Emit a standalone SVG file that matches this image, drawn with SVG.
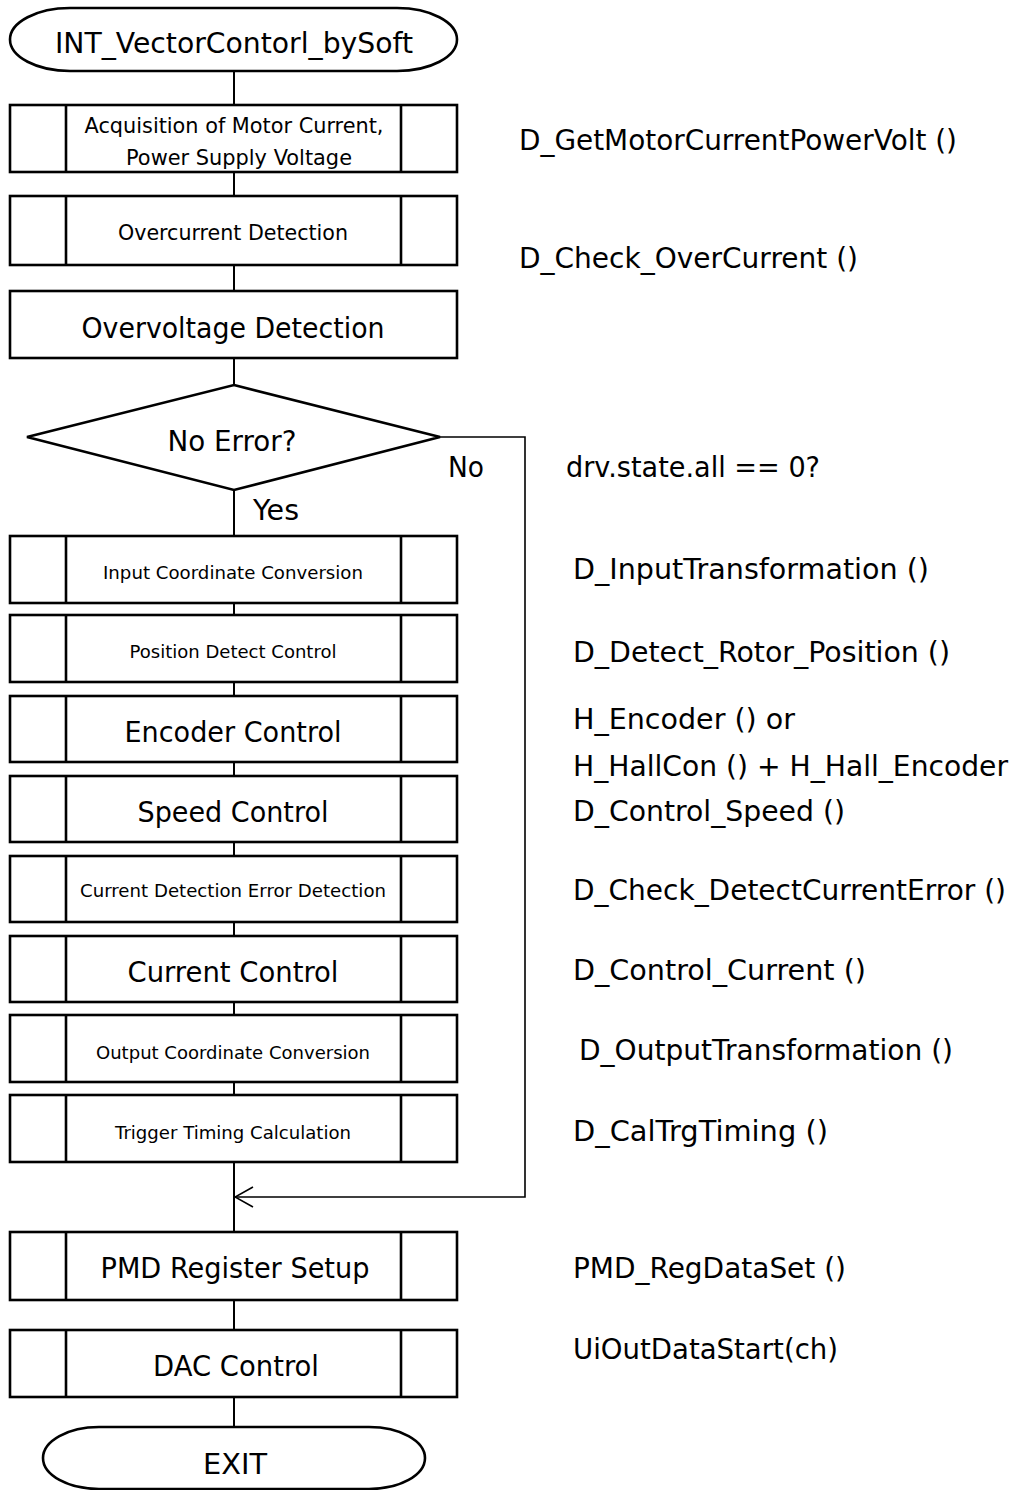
<svg xmlns="http://www.w3.org/2000/svg" width="1013" height="1490" viewBox="0 0 1013 1490">
<style>
.box{fill:#fff;stroke:#000;stroke-width:2.6}
.div{stroke:#000;stroke-width:2.6}
.ln{stroke:#000;stroke-width:2;fill:none}
.loop{stroke:#000;stroke-width:1.6;fill:none}
text{font-family:"DejaVu Sans","Liberation Sans",sans-serif;fill:#000}
.c{text-anchor:middle}
.b{font-size:28px}
.m{font-size:20.5px}
.s{font-size:18.5px}
.r{font-size:28px}
</style>
<defs>
<marker id="open" viewBox="0 0 20 24" refX="19" refY="12" markerWidth="20" markerHeight="24" markerUnits="userSpaceOnUse" orient="auto">
<path d="M1,2 L19,12 L1,22" fill="none" stroke="#000" stroke-width="1.6"/>
</marker>
</defs>
<g id="connectors">
<line class="ln" x1="234" y1="71" x2="234" y2="105"/>
<line class="ln" x1="234" y1="172" x2="234" y2="196"/>
<line class="ln" x1="234" y1="265" x2="234" y2="291"/>
<line class="ln" x1="234" y1="358" x2="234" y2="385"/>
<line class="ln" x1="234" y1="490" x2="234" y2="536"/>
<line class="ln" x1="234" y1="603" x2="234" y2="615"/>
<line class="ln" x1="234" y1="682" x2="234" y2="696"/>
<line class="ln" x1="234" y1="762" x2="234" y2="776"/>
<line class="ln" x1="234" y1="842" x2="234" y2="856"/>
<line class="ln" x1="234" y1="922" x2="234" y2="936"/>
<line class="ln" x1="234" y1="1002" x2="234" y2="1015"/>
<line class="ln" x1="234" y1="1082" x2="234" y2="1095"/>
<line class="ln" x1="234" y1="1162" x2="234" y2="1232"/>
<line class="ln" x1="234" y1="1300" x2="234" y2="1330"/>
<line class="ln" x1="234" y1="1397" x2="234" y2="1427"/>
<path class="loop" d="M440,437 L525,437 L525,1197 L235,1197" marker-end="url(#open)"/>
<text class="b" x="448" y="477" textLength="36" lengthAdjust="spacingAndGlyphs">No</text>
<text class="b" x="253" y="520" textLength="46" lengthAdjust="spacingAndGlyphs">Yes</text>
</g>
<g id="start">
<rect class="box" x="10" y="8" width="447" height="63" rx="60" ry="31.5"/>
<text class="b c" x="234" y="53" textLength="358" lengthAdjust="spacingAndGlyphs">INT_VectorContorl_bySoft</text>
</g>
<g id="acq">
<rect class="box" x="10" y="105" width="447" height="67"/>
<line class="div" x1="66" y1="105" x2="66" y2="172"/>
<line class="div" x1="401" y1="105" x2="401" y2="172"/>
<text class="m c" x="234" y="133" textLength="299" lengthAdjust="spacingAndGlyphs">Acquisition of Motor Current,</text>
<text class="m c" x="239" y="165" textLength="226" lengthAdjust="spacingAndGlyphs">Power Supply Voltage</text>
</g>
<g id="overcurrent">
<rect class="box" x="10" y="196" width="447" height="69"/>
<line class="div" x1="66" y1="196" x2="66" y2="265"/>
<line class="div" x1="401" y1="196" x2="401" y2="265"/>
<text class="m c" x="233" y="240" textLength="230" lengthAdjust="spacingAndGlyphs">Overcurrent Detection</text>
</g>
<g id="overvoltage">
<rect class="box" x="10" y="291" width="447" height="67"/>
<text class="b c" x="233" y="338" textLength="303" lengthAdjust="spacingAndGlyphs">Overvoltage Detection</text>
</g>
<g id="decision">
<polygon class="box" points="234,385 440,437 234,490 27,437"/>
<text class="b c" x="232" y="451" textLength="129" lengthAdjust="spacingAndGlyphs">No Error?</text>
</g>
<g id="input">
<rect class="box" x="10" y="536" width="447" height="67"/>
<line class="div" x1="66" y1="536" x2="66" y2="603"/>
<line class="div" x1="401" y1="536" x2="401" y2="603"/>
<text class="s c" x="233" y="579" textLength="260" lengthAdjust="spacingAndGlyphs">Input Coordinate Conversion</text>
</g>
<g id="position">
<rect class="box" x="10" y="615" width="447" height="67"/>
<line class="div" x1="66" y1="615" x2="66" y2="682"/>
<line class="div" x1="401" y1="615" x2="401" y2="682"/>
<text class="s c" x="233" y="658" textLength="207" lengthAdjust="spacingAndGlyphs">Position Detect Control</text>
</g>
<g id="encoder">
<rect class="box" x="10" y="696" width="447" height="66"/>
<line class="div" x1="66" y1="696" x2="66" y2="762"/>
<line class="div" x1="401" y1="696" x2="401" y2="762"/>
<text class="b c" x="233" y="742" textLength="217" lengthAdjust="spacingAndGlyphs">Encoder Control</text>
</g>
<g id="speed">
<rect class="box" x="10" y="776" width="447" height="66"/>
<line class="div" x1="66" y1="776" x2="66" y2="842"/>
<line class="div" x1="401" y1="776" x2="401" y2="842"/>
<text class="b c" x="233" y="822" textLength="191" lengthAdjust="spacingAndGlyphs">Speed Control</text>
</g>
<g id="cded">
<rect class="box" x="10" y="856" width="447" height="66"/>
<line class="div" x1="66" y1="856" x2="66" y2="922"/>
<line class="div" x1="401" y1="856" x2="401" y2="922"/>
<text class="s c" x="233" y="897" textLength="306" lengthAdjust="spacingAndGlyphs">Current Detection Error Detection</text>
</g>
<g id="current">
<rect class="box" x="10" y="936" width="447" height="66"/>
<line class="div" x1="66" y1="936" x2="66" y2="1002"/>
<line class="div" x1="401" y1="936" x2="401" y2="1002"/>
<text class="b c" x="233" y="982" textLength="211" lengthAdjust="spacingAndGlyphs">Current Control</text>
</g>
<g id="output">
<rect class="box" x="10" y="1015" width="447" height="67"/>
<line class="div" x1="66" y1="1015" x2="66" y2="1082"/>
<line class="div" x1="401" y1="1015" x2="401" y2="1082"/>
<text class="s c" x="233" y="1059" textLength="274" lengthAdjust="spacingAndGlyphs">Output Coordinate Conversion</text>
</g>
<g id="trigger">
<rect class="box" x="10" y="1095" width="447" height="67"/>
<line class="div" x1="66" y1="1095" x2="66" y2="1162"/>
<line class="div" x1="401" y1="1095" x2="401" y2="1162"/>
<text class="s c" x="233" y="1139" textLength="236" lengthAdjust="spacingAndGlyphs">Trigger Timing Calculation</text>
</g>
<g id="pmd">
<rect class="box" x="10" y="1232" width="447" height="68"/>
<line class="div" x1="66" y1="1232" x2="66" y2="1300"/>
<line class="div" x1="401" y1="1232" x2="401" y2="1300"/>
<text class="b c" x="235" y="1278" textLength="269" lengthAdjust="spacingAndGlyphs">PMD Register Setup</text>
</g>
<g id="dac">
<rect class="box" x="10" y="1330" width="447" height="67"/>
<line class="div" x1="66" y1="1330" x2="66" y2="1397"/>
<line class="div" x1="401" y1="1330" x2="401" y2="1397"/>
<text class="b c" x="236" y="1376" textLength="166" lengthAdjust="spacingAndGlyphs">DAC Control</text>
</g>
<g id="exit">
<rect class="box" x="43" y="1427" width="382" height="62" rx="56" ry="31"/>
<text class="b c" x="235" y="1474" textLength="64" lengthAdjust="spacingAndGlyphs">EXIT</text>
</g>
<g id="annotations">
<text class="r" x="519" y="150" textLength="438" lengthAdjust="spacingAndGlyphs">D_GetMotorCurrentPowerVolt ()</text>
<text class="r" x="519" y="268" textLength="339" lengthAdjust="spacingAndGlyphs">D_Check_OverCurrent ()</text>
<text class="r" x="566" y="477" textLength="254" lengthAdjust="spacingAndGlyphs">drv.state.all == 0?</text>
<text class="r" x="573" y="579" textLength="356" lengthAdjust="spacingAndGlyphs">D_InputTransformation ()</text>
<text class="r" x="573" y="662" textLength="377" lengthAdjust="spacingAndGlyphs">D_Detect_Rotor_Position ()</text>
<text class="r" x="573" y="729" textLength="222" lengthAdjust="spacingAndGlyphs">H_Encoder () or</text>
<text class="r" x="573" y="776" textLength="435" lengthAdjust="spacingAndGlyphs">H_HallCon () + H_Hall_Encoder</text>
<text class="r" x="573" y="821" textLength="272" lengthAdjust="spacingAndGlyphs">D_Control_Speed ()</text>
<text class="r" x="573" y="900" textLength="433" lengthAdjust="spacingAndGlyphs">D_Check_DetectCurrentError ()</text>
<text class="r" x="573" y="980" textLength="293" lengthAdjust="spacingAndGlyphs">D_Control_Current ()</text>
<text class="r" x="579" y="1060" textLength="374" lengthAdjust="spacingAndGlyphs">D_OutputTransformation ()</text>
<text class="r" x="573" y="1141" textLength="255" lengthAdjust="spacingAndGlyphs">D_CalTrgTiming ()</text>
<text class="r" x="573" y="1278" textLength="273" lengthAdjust="spacingAndGlyphs">PMD_RegDataSet ()</text>
<text class="r" x="573" y="1359" textLength="265" lengthAdjust="spacingAndGlyphs">UiOutDataStart(ch)</text>
</g>
</svg>
